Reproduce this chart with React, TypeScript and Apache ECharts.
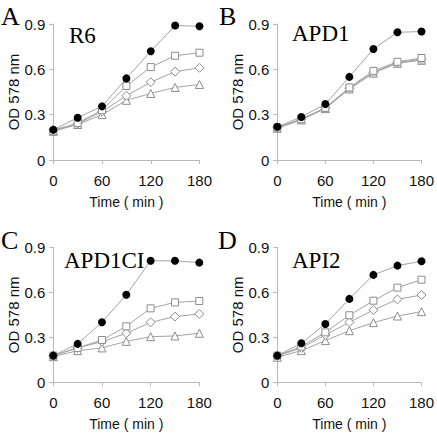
import React, { useEffect, useRef } from "react";
import * as echarts from "echarts";

const times = [0, 30, 60, 90, 120, 150, 180];
const xTicks = [0, 60, 120, 180];

const panelLetters = ["A", "B", "C", "D"];
const panelTitles = ["R6", "APD1", "APD1CI", "API2"];

// Panel A (R6)
const aFilled = [0.2, 0.28, 0.355, 0.54, 0.72, 0.89, 0.885];
const aSquare = [0.19, 0.245, 0.33, 0.49, 0.615, 0.69, 0.71];
const aDiamond = [0.2, 0.24, 0.32, 0.425, 0.515, 0.585, 0.61];
const aTriangle = [0.19, 0.235, 0.3, 0.395, 0.44, 0.48, 0.5];

// Panel B (APD1)
const bFilled = [0.22, 0.285, 0.37, 0.55, 0.735, 0.845, 0.85];
const bSquare = [0.215, 0.27, 0.345, 0.48, 0.59, 0.65, 0.675];
const bDiamond = [0.215, 0.27, 0.345, 0.475, 0.58, 0.645, 0.665];
const bTriangle = [0.21, 0.265, 0.34, 0.47, 0.575, 0.64, 0.66];

// Panel C (APD1CI)
const cFilled = [0.178, 0.256, 0.4, 0.584, 0.81, 0.81, 0.798];
const cSquare = [0.178, 0.229, 0.282, 0.373, 0.493, 0.533, 0.542];
const cDiamond = [0.178, 0.229, 0.271, 0.327, 0.4, 0.438, 0.456];
const cTriangle = [0.171, 0.211, 0.229, 0.273, 0.304, 0.309, 0.327];

// Panel D (API2)
const dFilled = [0.178, 0.26, 0.389, 0.556, 0.716, 0.778, 0.807];
const dSquare = [0.178, 0.238, 0.333, 0.447, 0.544, 0.631, 0.684];
const dDiamond = [0.175, 0.229, 0.316, 0.4, 0.482, 0.553, 0.582];
const dTriangle = [0.167, 0.211, 0.278, 0.344, 0.398, 0.442, 0.471];

const panels = [
  { filled: aFilled, square: aSquare, diamond: aDiamond, triangle: aTriangle },
  { filled: bFilled, square: bSquare, diamond: bDiamond, triangle: bTriangle },
  { filled: cFilled, square: cSquare, diamond: cDiamond, triangle: cTriangle },
  { filled: dFilled, square: dSquare, diamond: dDiamond, triangle: dTriangle },
];

// layout (pixels)
const grids = [
  { left: 53.3, top: 24, width: 146.2, height: 136 },
  { left: 277.3, top: 24, width: 146.4, height: 136 },
  { left: 53.3, top: 247.3, width: 146.0, height: 135 },
  { left: 277.3, top: 247.3, width: 146.4, height: 135 },
];
const letterPos = [
  { x: 1, y: 16 },
  { x: 219, y: 16 },
  { x: 1, y: 240 },
  { x: 218, y: 240 },
];
const titlePos = [
  { x: 69, y: 35 },
  { x: 292, y: 33 },
  { x: 64, y: 260 },
  { x: 292, y: 260 },
];

const LINE = "#a3a3a3";
const AXIS = "#b8b8b8";
const MARK = "#8c8c8c";
const TXT = "#111";
const SANS = "'Liberation Sans Narrow', 'Liberation Sans', Arial, sans-serif";
const SERIF = "'Liberation Serif', 'Times New Roman', serif";

export default function App() {
  const ref = useRef<HTMLDivElement>(null);
  useEffect(() => {
    if (!ref.current) return;
    const chart = echarts.init(ref.current, null, { renderer: "svg" });
    const xAxis: any[] = [];
    const yAxis: any[] = [];
    const series: any[] = [];
    const graphic: any[] = [];
    panels.forEach((p, i) => {
      xAxis.push({
        type: "value",
        gridIndex: i,
        min: 0,
        max: 180,
        interval: 60,
        name: "Time ( min )",
        nameLocation: "middle",
        nameGap: 35,
        nameTextStyle: { fontFamily: SANS, fontSize: 14, color: TXT },
        axisLine: { show: true, lineStyle: { color: AXIS, width: 1 } },
        axisTick: { show: true, length: 4, lineStyle: { color: AXIS } },
        axisLabel: {
          margin: 13,
          fontFamily: SANS,
          fontSize: 15,
          color: TXT,
          customValues: xTicks,
        },
        splitLine: { show: false },
      });
      yAxis.push({
        type: "value",
        gridIndex: i,
        min: 0,
        max: 0.9,
        interval: 0.3,
        name: "OD 578 nm",
        nameLocation: "middle",
        nameGap: 30,
        nameTextStyle: { fontFamily: SANS, fontSize: 15, color: TXT },
        axisLine: { show: true, lineStyle: { color: AXIS, width: 1 } },
        axisTick: { show: true, length: 4, lineStyle: { color: AXIS } },
        axisLabel: {
          margin: 8,
          fontFamily: SANS,
          fontSize: 15,
          color: TXT,
          formatter: (v: number) => (v === 0 ? "0" : v.toFixed(1)),
        },
        splitLine: { show: false },
      });
      const mk = (data: number[], symbol: string, size: number, filled: boolean, z: number) => ({
        type: "line",
        xAxisIndex: i,
        yAxisIndex: i,
        data: times.map((t, k) => [t, data[k]]),
        symbol,
        symbolSize: size,
        showSymbol: true,
        z,
        lineStyle: { color: LINE, width: 1 },
        itemStyle: filled
          ? { color: "#000", borderColor: "#000", borderWidth: 0 }
          : { color: "#fff", borderColor: MARK, borderWidth: 1 },
        emphasis: { disabled: true },
      });
      series.push(mk(p.triangle, "triangle", 8, false, 2));
      series.push(mk(p.diamond, "diamond", 9, false, 3));
      series.push(mk(p.square, "rect", 7, false, 4));
      series.push(mk(p.filled, "circle", 8, true, 5));
      graphic.push({
        type: "text",
        x: letterPos[i].x,
        y: letterPos[i].y,
        style: {
          text: panelLetters[i],
          fontFamily: SERIF,
          fontSize: 26,
          fill: "#000",
          verticalAlign: "middle",
        },
      });
      graphic.push({
        type: "text",
        x: titlePos[i].x,
        y: titlePos[i].y,
        style: {
          text: panelTitles[i],
          fontFamily: SERIF,
          fontSize: 23,
          fill: "#000",
          verticalAlign: "middle",
        },
      });
    });
    chart.setOption({
      animation: false,
      backgroundColor: "#fff",
      grid: grids.map((g) => ({ ...g, containLabel: false })),
      xAxis,
      yAxis,
      series,
      graphic,
    });
    return () => chart.dispose();
  }, []);
  return (
    <div
      ref={ref}
      style={{ position: "fixed", left: 0, top: 0, width: 437, height: 436 }}
    />
  );
}
